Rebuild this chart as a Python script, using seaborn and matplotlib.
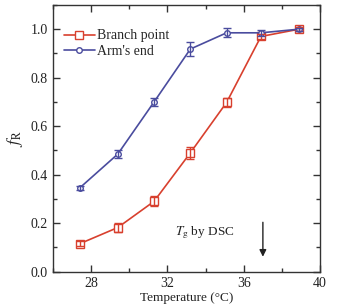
import numpy as np
import pandas as pd
import matplotlib
matplotlib.use("Agg")
import matplotlib.pyplot as plt
import seaborn as sns
from matplotlib.ticker import MultipleLocator, FormatStrFormatter

temperature = [27.4, 29.4, 31.3, 33.2, 35.1, 36.9, 38.9]
branch_point = [0.115, 0.182, 0.290, 0.490, 0.698, 0.970, 1.000]
branch_err = [0.010, 0.020, 0.020, 0.025, 0.020, 0.012, 0.008]
arms_end = [0.345, 0.485, 0.700, 0.918, 0.985, 0.985, 1.000]
arms_err = [0.010, 0.015, 0.018, 0.030, 0.018, 0.012, 0.006]

red = "#d8402e"
blue = "#4a4c9e"

sns.set_theme(style="ticks")
plt.rcParams['font.family'] = ['Liberation Serif', 'DejaVu Serif']
plt.rcParams['mathtext.fontset'] = 'stix'

fig = plt.figure(figsize=(3.37, 3.08), dpi=100)
ax = fig.add_axes([0.157, 0.118, 0.793, 0.866])

df_b = pd.DataFrame({"T": temperature, "f": branch_point})
df_a = pd.DataFrame({"T": temperature, "f": arms_end})

sns.lineplot(data=df_b, x="T", y="f", color=red, marker="s", markersize=6,
             markerfacecolor="white", markeredgecolor=red, markeredgewidth=1.0,
             lw=1.2, ax=ax, label="Branch point")
sns.lineplot(data=df_a, x="T", y="f", color=blue, marker="o", markersize=4,
             markerfacecolor="white", markeredgecolor=blue, markeredgewidth=1.0,
             lw=1.2, ax=ax, label="Arm's end")

ax.errorbar(temperature, branch_point, yerr=branch_err, fmt="none",
            ecolor=red, elinewidth=1.0, capsize=3, capthick=1.0)
ax.errorbar(temperature, arms_end, yerr=arms_err, fmt="none",
            ecolor=blue, elinewidth=1.0, capsize=3, capthick=1.0)

ax.set_xlim(26, 40)
ax.set_ylim(0, 1.1)
ax.set_xticks([28, 32, 36, 40])
ax.xaxis.set_minor_locator(MultipleLocator(2))
ax.yaxis.set_major_locator(MultipleLocator(0.2))
ax.yaxis.set_minor_locator(MultipleLocator(0.1))
ax.yaxis.set_major_formatter(FormatStrFormatter("%.1f"))

ax.tick_params(which="both", direction="in", top=True, right=True,
               labeltop=False, labelright=False, colors="#333333",
               labelcolor="#222222", labelsize=10)
ax.tick_params(which="major", length=5, width=1.0)
ax.tick_params(which="minor", length=3, width=1.0)
for s in ax.spines.values():
    s.set_linewidth(1.0)
    s.set_color("#333333")

ax.set_xlabel("Temperature (°C)", fontsize=9.5, labelpad=1.5, color="#222222")
ax.set_ylabel(r"$f_{\mathrm{R}}$", fontsize=12, labelpad=4, color="#222222")

ax.text(32.4, 0.151, r"$T_{\mathrm{g}}$ by DSC", fontsize=9.5, color="#222222")
ax.annotate("", xy=(37.0, 0.05), xytext=(37.0, 0.215),
            arrowprops=dict(arrowstyle="-|>", color="#222222", lw=1.0,
                            mutation_scale=10))

ax.legend(loc="upper left", bbox_to_anchor=(0.0, 0.95),
          frameon=False, fontsize=10, handlelength=2.2,
          handletextpad=0.2, borderaxespad=0.4, labelspacing=0.2)

fig.savefig("out.png", dpi=100)
